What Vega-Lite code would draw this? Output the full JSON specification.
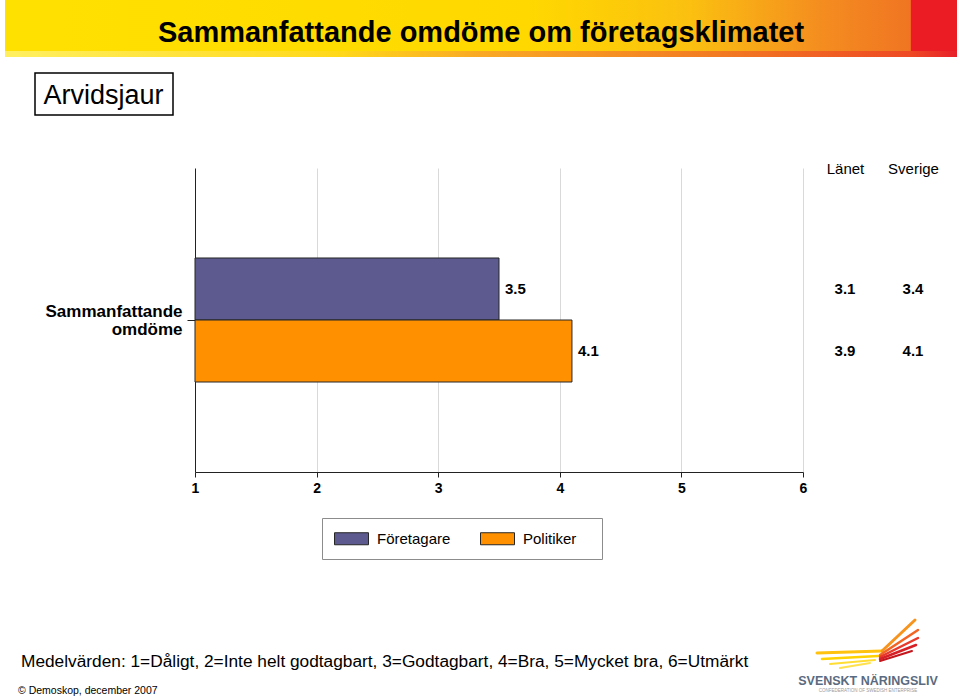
{
  "$schema": "https://vega.github.io/schema/vega-lite/v6.json",
  "width": 960,
  "height": 698,
  "autosize": {"type": "none"},
  "padding": 0,
  "background": "#ffffff",
  "config": {"view": {"stroke": null}, "font": "Liberation Sans"},
  "layer": [
    {
      "encoding": {
        "x": {"type": "quantitative", "scale": {"domain": [0, 960], "range": [0, 960]}, "axis": null},
        "y": {"type": "quantitative", "scale": {"domain": [0, 698], "range": [0, 698]}, "axis": null}
      },
      "layer": [
        {
          "data": {"values": [{"part": "banner"}]},
          "mark": {"type": "rect", "fill": {"gradient": "linear", "x1": 0, "y1": 0, "x2": 1, "y2": 0, "stops": [
            {"offset": 0, "color": "#FFE100"},
            {"offset": 0.55, "color": "#FFD800"},
            {"offset": 0.72, "color": "#FBC010"},
            {"offset": 0.86, "color": "#F48C20"},
            {"offset": 0.951, "color": "#F07522"},
            {"offset": 0.952, "color": "#EC1C24"},
            {"offset": 1, "color": "#EC1C24"}]}},
          "encoding": {
            "x": {"datum": 5, "type": "quantitative", "scale": {"domain": [0, 960], "range": [0, 960]}, "axis": null},
            "x2": {"datum": 957},
            "y": {"datum": 0, "type": "quantitative", "scale": {"domain": [0, 698], "range": [0, 698]}, "axis": null},
            "y2": {"datum": 57}
          }
        },
        {
          "data": {"values": [{"part": "strip"}]},
          "mark": {"type": "rect", "fill": {"gradient": "linear", "x1": 0, "y1": 0, "x2": 1, "y2": 0, "stops": [
            {"offset": 0, "color": "#FFEF60"},
            {"offset": 0.35, "color": "#FFD81A"},
            {"offset": 0.5, "color": "#F9A825"},
            {"offset": 0.75, "color": "#F27A22"},
            {"offset": 0.95, "color": "#EE4A24"},
            {"offset": 1, "color": "#E8202A"}]}},
          "encoding": {
            "x": {"datum": 5, "type": "quantitative"},
            "x2": {"datum": 957},
            "y": {"datum": 51, "type": "quantitative"},
            "y2": {"datum": 57}
          }
        },
        {
          "data": {"values": [{"t": "Sammanfattande omdöme om företagsklimatet"}]},
          "mark": {"type": "text", "font": "Liberation Sans", "fontWeight": "bold", "fontSize": 29, "align": "center", "baseline": "alphabetic", "color": "#000000"},
          "encoding": {
            "x": {"datum": 481, "type": "quantitative"},
            "y": {"datum": 42, "type": "quantitative"},
            "text": {"field": "t"}
          }
        },
        {
          "data": {"values": [{"part": "box"}]},
          "mark": {"type": "rect", "fill": "#ffffff", "stroke": "#000000", "strokeWidth": 1.5},
          "encoding": {
            "x": {"datum": 35, "type": "quantitative"},
            "x2": {"datum": 173},
            "y": {"datum": 73, "type": "quantitative"},
            "y2": {"datum": 115}
          }
        },
        {
          "data": {"values": [{"t": "Arvidsjaur"}]},
          "mark": {"type": "text", "font": "Liberation Sans", "fontSize": 27, "align": "center", "baseline": "alphabetic", "color": "#000000"},
          "encoding": {
            "x": {"datum": 103.5, "type": "quantitative"},
            "y": {"datum": 103.5, "type": "quantitative"},
            "text": {"field": "t"}
          }
        },
        {
          "data": {"values": [{"part": "legendbox"}]},
          "mark": {"type": "rect", "fill": "#ffffff", "stroke": "#8C8C8C", "strokeWidth": 1},
          "encoding": {
            "x": {"datum": 322.5, "type": "quantitative"},
            "x2": {"datum": 602.5},
            "y": {"datum": 518.5, "type": "quantitative"},
            "y2": {"datum": 559.5}
          }
        },
        {
          "data": {"values": [{"t": "Medelvärden: 1=Dåligt, 2=Inte helt godtagbart, 3=Godtagbart, 4=Bra, 5=Mycket bra, 6=Utmärkt"}]},
          "mark": {"type": "text", "font": "Liberation Sans", "fontSize": 17.3, "align": "left", "baseline": "alphabetic", "color": "#000000"},
          "encoding": {
            "x": {"datum": 21, "type": "quantitative"},
            "y": {"datum": 667, "type": "quantitative"},
            "text": {"field": "t"}
          }
        },
        {
          "data": {"values": [{"t": "© Demoskop, december 2007"}]},
          "mark": {"type": "text", "font": "Liberation Sans", "fontSize": 10.5, "align": "left", "baseline": "alphabetic", "color": "#000000"},
          "encoding": {
            "x": {"datum": 18, "type": "quantitative"},
            "y": {"datum": 694, "type": "quantitative"},
            "text": {"field": "t"}
          }
        },
        {
          "data": {"values": [{"t": "SVENSKT NÄRINGSLIV"}]},
          "mark": {"type": "text", "font": "Liberation Sans", "fontWeight": "bold", "fontSize": 12.5, "align": "center", "baseline": "alphabetic", "color": "#5A6B80"},
          "encoding": {
            "x": {"datum": 868, "type": "quantitative"},
            "y": {"datum": 685, "type": "quantitative"},
            "text": {"field": "t"}
          }
        },
        {
          "data": {"values": [{"t": "CONFEDERATION OF SWEDISH ENTERPRISE"}]},
          "mark": {"type": "text", "font": "Liberation Sans", "fontSize": 4.5, "align": "center", "baseline": "alphabetic", "color": "#9A9A9A"},
          "encoding": {
            "x": {"datum": 868, "type": "quantitative"},
            "y": {"datum": 692, "type": "quantitative"},
            "text": {"field": "t"}
          }
        },
        {"data": {"values": [{"part": "wing"}]}, "mark": {"type": "rule", "color": "#FFC20E", "strokeWidth": 3, "strokeCap": "round"},
          "encoding": {"x": {"datum": 817, "type": "quantitative"}, "x2": {"datum": 882}, "y": {"datum": 653, "type": "quantitative"}, "y2": {"datum": 651}}},
        {"data": {"values": [{"part": "wing"}]}, "mark": {"type": "rule", "color": "#F7941D", "strokeWidth": 3, "strokeCap": "round"},
          "encoding": {"x": {"datum": 882, "type": "quantitative"}, "x2": {"datum": 915}, "y": {"datum": 651, "type": "quantitative"}, "y2": {"datum": 620}}},
        {"data": {"values": [{"part": "wing"}]}, "mark": {"type": "rule", "color": "#FFD200", "strokeWidth": 2.5, "strokeCap": "round"},
          "encoding": {"x": {"datum": 822, "type": "quantitative"}, "x2": {"datum": 878}, "y": {"datum": 659, "type": "quantitative"}, "y2": {"datum": 656}}},
        {"data": {"values": [{"part": "wing"}]}, "mark": {"type": "rule", "color": "#FFDD33", "strokeWidth": 2, "strokeCap": "round"},
          "encoding": {"x": {"datum": 830, "type": "quantitative"}, "x2": {"datum": 875}, "y": {"datum": 664, "type": "quantitative"}, "y2": {"datum": 660}}},
        {"data": {"values": [{"part": "wing"}]}, "mark": {"type": "rule", "color": "#FFE14D", "strokeWidth": 2, "strokeCap": "round"},
          "encoding": {"x": {"datum": 840, "type": "quantitative"}, "x2": {"datum": 870}, "y": {"datum": 668, "type": "quantitative"}, "y2": {"datum": 663}}},
        {"data": {"values": [{"part": "wing"}]}, "mark": {"type": "rule", "color": "#F26522", "strokeWidth": 2.5, "strokeCap": "round"},
          "encoding": {"x": {"datum": 880, "type": "quantitative"}, "x2": {"datum": 918}, "y": {"datum": 655, "type": "quantitative"}, "y2": {"datum": 630}}},
        {"data": {"values": [{"part": "wing"}]}, "mark": {"type": "rule", "color": "#E8392A", "strokeWidth": 2.5, "strokeCap": "round"},
          "encoding": {"x": {"datum": 880, "type": "quantitative"}, "x2": {"datum": 918}, "y": {"datum": 657, "type": "quantitative"}, "y2": {"datum": 638}}},
        {"data": {"values": [{"part": "wing"}]}, "mark": {"type": "rule", "color": "#D71F26", "strokeWidth": 2.5, "strokeCap": "round"},
          "encoding": {"x": {"datum": 880, "type": "quantitative"}, "x2": {"datum": 916}, "y": {"datum": 659, "type": "quantitative"}, "y2": {"datum": 645}}},
        {"data": {"values": [{"part": "wing"}]}, "mark": {"type": "rule", "color": "#C4161C", "strokeWidth": 2, "strokeCap": "round"},
          "encoding": {"x": {"datum": 880, "type": "quantitative"}, "x2": {"datum": 912}, "y": {"datum": 661, "type": "quantitative"}, "y2": {"datum": 651}}}
      ]
    },
    {
      "data": {"values": [
        {"kategori": "Sammanfattande omdöme", "grupp": "Företagare", "område": "Arvidsjaur", "medel": 3.5},
        {"kategori": "Sammanfattande omdöme", "grupp": "Politiker", "område": "Arvidsjaur", "medel": 4.1},
        {"kategori": "Sammanfattande omdöme", "grupp": "Företagare", "område": "Länet", "medel": 3.1},
        {"kategori": "Sammanfattande omdöme", "grupp": "Politiker", "område": "Länet", "medel": 3.9},
        {"kategori": "Sammanfattande omdöme", "grupp": "Företagare", "område": "Sverige", "medel": 3.4},
        {"kategori": "Sammanfattande omdöme", "grupp": "Politiker", "område": "Sverige", "medel": 4.1}
      ]},
      "layer": [
        {
          "transform": [{"filter": "datum['område'] == 'Arvidsjaur'"}],
          "layer": [
            {
              "mark": {"type": "bar", "stroke": "#262626", "strokeWidth": 1},
              "encoding": {
                "x": {"field": "medel", "type": "quantitative",
                  "scale": {"domain": [1, 6], "range": [195, 803], "zero": false, "nice": false},
                  "axis": {"orient": "bottom", "offset": -226, "values": [1, 2, 3, 4, 5, 6], "format": "d", "title": null,
                    "grid": false, "labelFlush": false,
                    "domainColor": "#222222", "domainWidth": 1, "tickColor": "#222222", "tickSize": 5, "tickWidth": 1,
                    "labelFont": "Liberation Sans", "labelFontWeight": "bold", "labelFontSize": 14, "labelColor": "#000000", "labelPadding": 4}},
                "x2": {"datum": 1},
                "y": {"field": "kategori", "type": "nominal",
                  "scale": {"domain": ["Sammanfattande omdöme"], "range": [168, 472], "paddingInner": 0, "paddingOuter": 0.7258},
                  "axis": {"orient": "left", "offset": -195, "title": null, "domainColor": "#222222", "domainWidth": 1,
                    "tickColor": "#222222", "tickSize": 8, "labelFont": "Liberation Sans", "labelFontWeight": "bold", "labelFontSize": 17,
                    "labelColor": "#000000", "labelPadding": 5, "labelExpr": "split(datum.value, ' ')", "labelLineHeight": 18, "labelOffset": -8.5, "labelLimit": 300}},
                "yOffset": {"field": "grupp", "type": "nominal", "scale": {"domain": ["Företagare", "Politiker"], "paddingInner": 0, "paddingOuter": 0}},
                "color": {"field": "grupp", "type": "nominal",
                  "scale": {"domain": ["Företagare", "Politiker"], "range": ["#5C5A8E", "#FF9000"]},
                  "legend": {"orient": "none", "legendX": 334, "legendY": 521, "direction": "horizontal", "title": null,
                    "symbolType": "M-1,-0.353H1V0.353H-1Z", "symbolSize": 1156, "symbolStrokeColor": "#262626", "symbolStrokeWidth": 1,
                    "labelFont": "Liberation Sans", "labelFontSize": 15, "labelColor": "#000000", "labelOffset": 8, "columnPadding": 27, "padding": 0}}
              }
            },
            {
              "mark": {"type": "text", "align": "left", "baseline": "middle", "dx": 6, "font": "Liberation Sans", "fontWeight": "bold", "fontSize": 15, "color": "#000000"},
              "encoding": {
                "x": {"field": "medel", "type": "quantitative", "scale": {"domain": [1, 6], "range": [195, 803], "zero": false, "nice": false},
                  "axis": {"orient": "top", "offset": 0, "values": [2, 3, 4, 5, 6], "title": null, "grid": true, "gridColor": "#D9D9D9", "gridWidth": 1,
                    "domain": false, "ticks": false, "labels": false}},
                "y": {"field": "kategori", "type": "nominal", "scale": {"domain": ["Sammanfattande omdöme"], "range": [168, 472], "paddingInner": 0, "paddingOuter": 0.7258}},
                "yOffset": {"field": "grupp", "type": "nominal", "scale": {"domain": ["Företagare", "Politiker"], "paddingInner": 0, "paddingOuter": 0}},
                "text": {"field": "medel", "type": "quantitative", "format": ".1f"}
              }
            }
          ],
          "resolve": {"scale": {"x": "independent"}}
        },
        {
          "transform": [{"filter": "datum['område'] != 'Arvidsjaur'"}],
          "mark": {"type": "text", "align": "center", "baseline": "middle", "font": "Liberation Sans", "fontWeight": "bold", "fontSize": 15, "color": "#000000"},
          "encoding": {
            "x": {"field": "område", "type": "nominal",
              "scale": {"type": "point", "domain": ["Länet", "Sverige"], "range": [845, 913], "padding": 0},
              "axis": {"orient": "top", "offset": -173, "title": null, "domain": false, "ticks": false, "tickSize": 0, "labelPadding": 0,
                "labelBaseline": "alphabetic", "labelFont": "Liberation Sans", "labelFontSize": 15, "labelColor": "#000000", "labelAngle": 0}},
            "y": {"field": "kategori", "type": "nominal", "scale": {"domain": ["Sammanfattande omdöme"], "range": [168, 472], "paddingInner": 0, "paddingOuter": 0.7258}},
            "yOffset": {"field": "grupp", "type": "nominal", "scale": {"domain": ["Företagare", "Politiker"], "paddingInner": 0, "paddingOuter": 0}},
            "text": {"field": "medel", "type": "quantitative", "format": ".1f"}
          }
        }
      ],
      "resolve": {"scale": {"x": "independent"}}
    }
  ],
  "resolve": {"scale": {"x": "independent", "y": "independent"}}
}
